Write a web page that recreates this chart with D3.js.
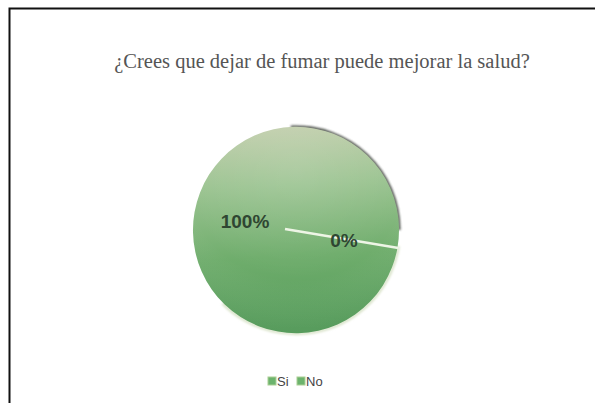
<!DOCTYPE html>
<html>
<head>
<meta charset="utf-8">
<script src="https://cdn.jsdelivr.net/npm/d3@7"></script>
<style>
  html, body { margin: 0; padding: 0; background: #fff; }
  svg { display: block; }
</style>
</head>
<body>
<svg id="chart" width="595" height="403"></svg>
<script>
// Survey answers and their shares
const categories = ["Si", "No"];
const values = [100, 0];
const valueLabels = ["100%", "0%"];
const title = "¿Crees que dejar de fumar puede mejorar la salud?";

const svg = d3.select("#chart");

// frame (top and left edges visible)
svg.append("path")
  .attr("d", "M9.5,403 L9.5,8.5 L595,8.5")
  .attr("fill", "none").attr("stroke", "#111").attr("stroke-width", 2);

// title
svg.append("text")
  .attr("x", 322).attr("y", 68)
  .attr("text-anchor", "middle")
  .attr("font-family", "'Liberation Serif', 'Times New Roman', serif")
  .attr("font-size", 20.5)
  .attr("fill", "#555")
  .text(title);

const cx = 296, cy = 230, r = 103;
const defs = svg.append("defs");

const grad = defs.append("linearGradient")
  .attr("id", "pieFill").attr("x1", 0).attr("y1", 0).attr("x2", 0.05).attr("y2", 1);
grad.append("stop").attr("offset", "0%").attr("stop-color", "#c4cfae");
grad.append("stop").attr("offset", "30%").attr("stop-color", "#9cc492");
grad.append("stop").attr("offset", "65%").attr("stop-color", "#6fad6c");
grad.append("stop").attr("offset", "100%").attr("stop-color", "#559c5a");

const rgrad = defs.append("radialGradient")
  .attr("id", "pieShade").attr("cx", 0.5).attr("cy", 0.2).attr("r", 0.9);
rgrad.append("stop").attr("offset", "0%").attr("stop-color", "#fff").attr("stop-opacity", 0.1);
rgrad.append("stop").attr("offset", "60%").attr("stop-color", "#fff").attr("stop-opacity", 0);
rgrad.append("stop").attr("offset", "100%").attr("stop-color", "#2d6b35").attr("stop-opacity", 0.15);

const blur = defs.append("filter").attr("id", "soft").attr("x", -0.2).attr("y", -0.2).attr("width", 1.4).attr("height", 1.4);
blur.append("feGaussianBlur").attr("stdDeviation", 1.2);

const g = svg.append("g").attr("transform", `translate(${cx},${cy})`);

// start angle of the first slice (clockwise from 12 o'clock)
const startDeg = 100;
const pie = d3.pie().sort(null)
  .startAngle(startDeg * Math.PI / 180)
  .endAngle(startDeg * Math.PI / 180 + 2 * Math.PI);
const arcs = pie(values);
const arc = d3.arc().innerRadius(0).outerRadius(r);

// dark rim on the upper right
const rimArc = d3.arc().innerRadius(r - 1).outerRadius(r + 1.6)
  .startAngle(-0.05).endAngle(Math.PI * 0.5);
g.append("path").attr("d", rimArc()).attr("fill", "#3a3f38").attr("filter", "url(#soft)").attr("opacity", 0.9);

// light rim on the lower side
const lightRim = d3.arc().innerRadius(r - 0.5).outerRadius(r + 2.2)
  .startAngle(Math.PI * 0.55).endAngle(Math.PI * 1.25);
g.append("path").attr("d", lightRim()).attr("fill", "#d9e3c9").attr("filter", "url(#soft)");

g.selectAll("path.slice").data(arcs).enter().append("path")
  .attr("class", "slice")
  .attr("d", arc)
  .attr("fill", "url(#pieFill)");
g.append("circle").attr("r", r).attr("fill", "url(#pieShade)");

// slice boundary
const a0 = arcs[0].startAngle;
g.append("line")
  .attr("x1", -11).attr("y1", -1)
  .attr("x2", Math.sin(a0) * (r + 1)).attr("y2", -Math.cos(a0) * (r + 1))
  .attr("stroke", "#eef5e6").attr("stroke-width", 2.6);

// value labels
const labelPos = [[-51, -9], [48, 10]];
g.selectAll("text.val").data(arcs).enter().append("text")
  .attr("class", "val")
  .attr("x", (d, i) => labelPos[i][0])
  .attr("y", (d, i) => labelPos[i][1])
  .attr("text-anchor", "middle")
  .attr("dominant-baseline", "central")
  .attr("font-family", "'Liberation Sans', Arial, sans-serif")
  .attr("font-weight", "bold")
  .attr("font-size", 19)
  .attr("fill", "#2f4632")
  .text((d, i) => valueLabels[i]);

// legend
const legend = svg.append("g").attr("transform", "translate(268,381)");
const offsets = [0, 29];
const lg = legend.selectAll("g").data(categories).enter().append("g")
  .attr("transform", (d, i) => `translate(${offsets[i]},0)`);
lg.append("rect").attr("x", 0).attr("y", -4).attr("width", 8).attr("height", 8)
  .attr("fill", "#6cb36d").attr("stroke", "#a9cf94").attr("stroke-width", 1);
lg.append("text").attr("x", 9).attr("y", 0)
  .attr("dominant-baseline", "central")
  .attr("font-family", "'Liberation Sans', Arial, sans-serif")
  .attr("font-size", 13).attr("fill", "#444")
  .text(d => d);
</script>
</body>
</html>
